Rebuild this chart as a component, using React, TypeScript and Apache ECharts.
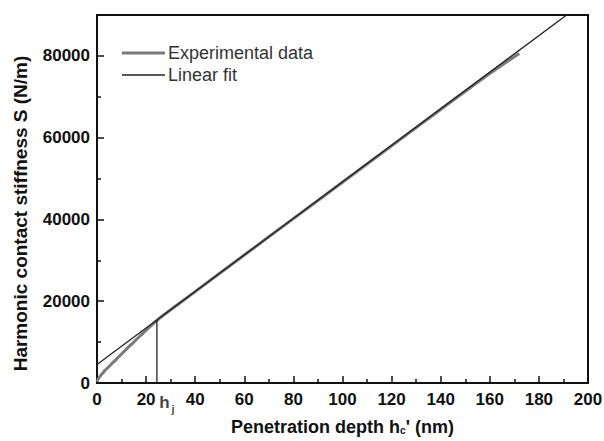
import React, { useEffect, useRef } from "react";
import * as echarts from "echarts";

const expDepth = [0, 0.5, 1, 2, 3, 5, 7.5, 10, 12.5, 15, 17.5, 20, 22.5, 25, 30, 40, 60, 80, 100, 120, 140, 160, 172];
const expStiffness = [300, 1000, 1500, 2200, 2900, 4100, 5600, 7100, 8600, 10000, 11500, 12900, 14300, 15600, 17900, 22350, 31300, 40200, 49100, 58000, 66900, 75700, 80600];
const fitDepth = [0, 191.3];
const fitStiffness = [4500, 90000];
const hjDepth = 24.4;
const hjStiffness = 15400;
const xTicks = [0, 20, 40, 60, 80, 100, 120, 140, 160, 180, 200];
const yTicks = [0, 20000, 40000, 60000, 80000];
const yMinorTicks = [10000, 30000, 50000, 70000];

const FONT = "Arial, 'Liberation Sans', Helvetica, sans-serif";

export default function App() {
  const ref = useRef<HTMLDivElement>(null);
  useEffect(() => {
    if (!ref.current) return;
    const chart = echarts.init(ref.current, undefined, { renderer: "svg" });
    const axisLine = { show: true, lineStyle: { color: "#111", width: 2 } };
    const legendText = { fontFamily: FONT, fontSize: 18, color: "#333", padding: [0, 0, 0, -2] };
    chart.setOption({
      animation: false,
      backgroundColor: "#fff",
      textStyle: { fontFamily: FONT },
      grid: {
        left: 97,
        right: 16,
        top: 15,
        bottom: 58,
        containLabel: false,
        outerBoundsMode: "none",
        show: true,
        borderColor: "#111",
        borderWidth: 2,
        backgroundColor: "transparent",
      },
      legend: [
        {
          data: ["Experimental data"],
          left: 117,
          top: 39,
          icon: "rect",
          itemWidth: 43,
          itemHeight: 3,
          itemGap: 0,
          textStyle: legendText,
        },
        {
          data: ["Linear fit"],
          left: 117,
          top: 61,
          icon: "rect",
          itemWidth: 43,
          itemHeight: 1.5,
          itemGap: 0,
          textStyle: legendText,
        },
      ],
      xAxis: {
        type: "value",
        min: 0,
        max: 200,
        interval: 20,
        name: "Penetration depth h{sub|c}' (nm)",
        nameLocation: "middle",
        nameGap: 34,
        nameTextStyle: {
          fontFamily: FONT,
          fontSize: 18,
          fontWeight: "bold",
          color: "#111",
          lineHeight: 20,
          rich: {
            sub: { fontSize: 10, fontWeight: "bold", color: "#111", padding: [6, 0, 0, 0], fontFamily: FONT, lineHeight: 20 },
          },
        },
        axisLine,
        axisTick: { show: true, inside: true, length: 7, lineStyle: { color: "#111", width: 1.5 }, customValues: xTicks },
        minorTick: { show: true, splitNumber: 2, length: 4, lineStyle: { color: "#111", width: 1.5 } },
        axisLabel: { fontFamily: FONT, fontSize: 17, fontWeight: "bold", color: "#111", margin: 8, customValues: xTicks },
        splitLine: { show: false },
      },
      yAxis: [
        {
          type: "value",
          min: 0,
          max: 90000,
          name: "Harmonic contact stiffness S (N/m)",
          nameLocation: "middle",
          nameGap: 67,
          nameTextStyle: { fontFamily: FONT, fontSize: 19, fontWeight: "bold", color: "#111", padding: [0, 0, 0, -29] },
          axisLine,
          axisTick: { show: true, inside: true, length: 7, lineStyle: { color: "#111", width: 1.5 }, customValues: yTicks },
          axisLabel: {
            fontFamily: FONT,
            fontSize: 17,
            fontWeight: "bold",
            color: "#111",
            margin: 7,
            customValues: yTicks,
            formatter: (v: number) => String(v),
          },
          splitLine: { show: false },
        },
        {
          type: "value",
          min: 0,
          max: 90000,
          position: "left",
          axisLine: { show: false },
          axisTick: { show: true, inside: true, length: 4, lineStyle: { color: "#111", width: 1.5 }, customValues: yMinorTicks },
          axisLabel: { show: false },
          splitLine: { show: false },
        },
      ],
      series: [
        {
          name: "Experimental data",
          type: "line",
          data: expDepth.map((x, i) => [x, expStiffness[i]]),
          showSymbol: false,
          symbol: "none",
          smooth: 0.3,
          lineStyle: { color: "#7a7a7a", width: 3 },
          itemStyle: { color: "#7a7a7a" },
        },
        {
          name: "Linear fit",
          type: "line",
          data: fitDepth.map((x, i) => [x, fitStiffness[i]]),
          showSymbol: false,
          symbol: "none",
          lineStyle: { color: "#222", width: 1.3 },
          itemStyle: { color: "#222" },
        },
        {
          name: "hj",
          type: "line",
          data: [[hjDepth, 0], [hjDepth, hjStiffness]],
          showSymbol: false,
          symbol: "none",
          lineStyle: { color: "#222", width: 1.3 },
        },
        {
          name: "hjLabel",
          type: "scatter",
          data: [[hjDepth, 0]],
          symbolSize: 0,
          clip: false,
          label: {
            show: true,
            position: "bottom",
            distance: 8,
            offset: [10, 0],
            formatter: "{h|h}{j|j}",
            rich: {
              h: { fontFamily: FONT, fontSize: 17, fontWeight: "bold", color: "#111" },
              j: { fontFamily: FONT, fontSize: 11, fontWeight: "bold", color: "#111", padding: [12, 0, 0, 2] },
            },
          },
        },
      ],
    });
    return () => chart.dispose();
  }, []);
  return (
    <div
      ref={ref}
      style={{ position: "fixed", left: 0, top: 0, width: 604, height: 441, background: "#fff" }}
    />
  );
}
